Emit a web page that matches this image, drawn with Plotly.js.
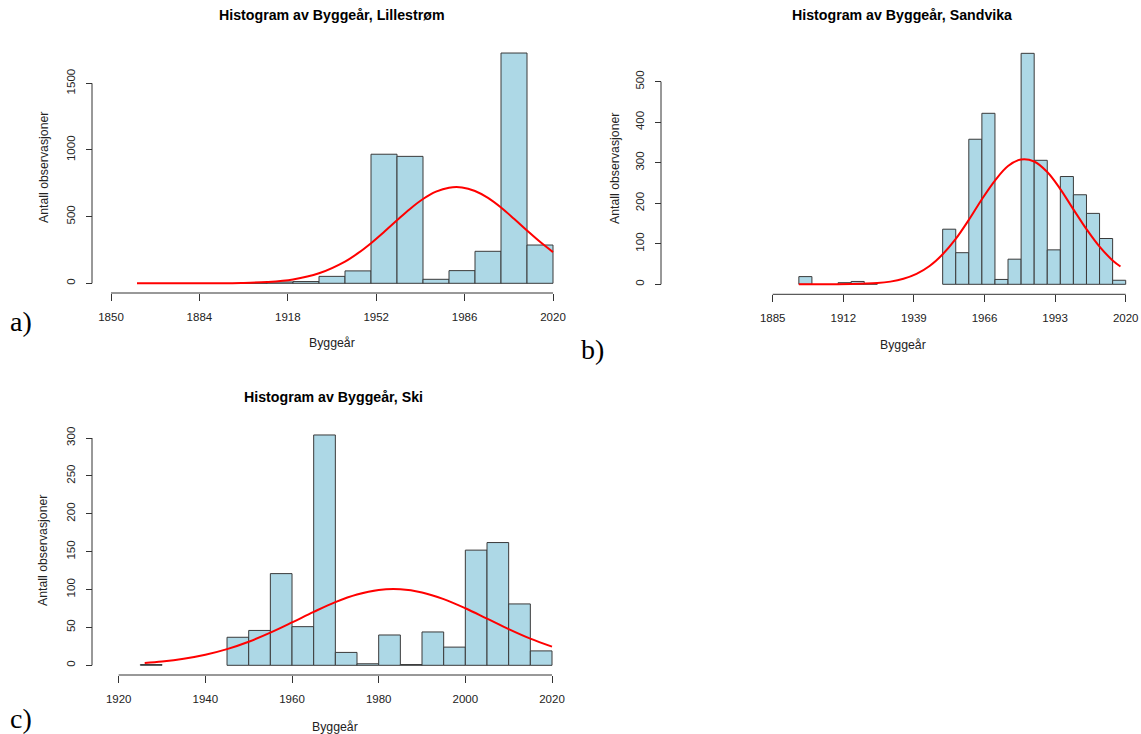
<!DOCTYPE html>
<html>
<head>
<meta charset="utf-8">
<script src="https://cdn.plot.ly/plotly-3.0.1.min.js"></script>
<style>
  html, body { margin: 0; padding: 0; background: #ffffff; }
  #chart { width: 1141px; height: 734px; }
</style>
</head>
<body>
<div id="chart"></div>
<script>
// ---------------- DATA ----------------
// Panel a) Lillestrøm : 10-year bins (bin start years) and counts
const aBinStart = [1900, 1910, 1920, 1930, 1940, 1950, 1960, 1970, 1980, 1990, 2000, 2010];
const aCounts   = [3, 10, 13, 52, 93, 968, 952, 30, 95, 240, 1727, 287];
const aBinWidth = 10;
// fitted normal curve (year, count)
const aCurveX = [1860, 1870, 1880, 1890, 1900, 1910, 1920, 1930, 1940, 1945, 1950, 1955, 1960, 1965, 1970, 1975, 1980, 1985, 1990, 1995, 2000, 2005, 2010, 2015, 2020];
const aCurveY = [0, 0.02, 0.13, 0.7, 2.7, 9.7, 29, 75, 163, 226, 301, 385, 473, 558, 632, 687, 717, 719, 692, 640, 568, 484, 396, 311, 234];
const aXTicks = [1850, 1884, 1918, 1952, 1986, 2020];
const aYTicks = [0, 500, 1000, 1500];

// Panel b) Sandvika : 5-year bins
const bBinStart = [1895, 1910, 1915, 1920, 1950, 1955, 1960, 1965, 1970, 1975, 1980, 1985, 1990, 1995, 2000, 2005, 2010, 2015];
const bCounts   = [19, 4, 7, 2, 136, 78, 358, 422, 12, 62, 570, 306, 85, 266, 221, 175, 113, 10];
const bBinWidth = 5;
const bCurveX = [1895, 1905, 1915, 1925, 1930, 1935, 1940, 1945, 1950, 1955, 1960, 1965, 1970, 1975, 1980, 1985, 1990, 1995, 2000, 2005, 2010, 2015, 2018];
const bCurveY = [0, 0.06, 0.5, 3, 6.6, 13.5, 25.6, 45, 74, 112, 159, 210, 256, 292, 308, 303, 277, 235, 185, 136, 93, 59, 44];
const bXTicks = [1885, 1912, 1939, 1966, 1993, 2020];
const bYTicks = [0, 100, 200, 300, 400, 500];

// Panel c) Ski : 5-year bins
const cBinStart = [1925, 1945, 1950, 1955, 1960, 1965, 1970, 1975, 1980, 1985, 1990, 1995, 2000, 2005, 2010, 2015];
const cCounts   = [1, 37, 46, 121, 51, 304, 17, 2, 40, 1, 44, 24, 152, 162, 81, 19];
const cBinWidth = 5;
const cCurveX = [1926, 1930, 1935, 1940, 1945, 1950, 1955, 1960, 1965, 1970, 1975, 1980, 1985, 1990, 1995, 2000, 2005, 2010, 2015, 2020];
const cCurveY = [3.1, 5.0, 8.6, 13.9, 21.3, 31.1, 43.1, 56.6, 70.5, 83.4, 93.5, 99.5, 100.4, 96.2, 87.4, 75.3, 61.6, 47.8, 35.2, 24.6];
const cXTicks = [1920, 1940, 1960, 1980, 2000, 2020];
const cYTicks = [0, 50, 100, 150, 200, 250, 300];

const titles = ["Histogram av Byggeår, Lillestrøm", "Histogram av Byggeår, Sandvika", "Histogram av Byggeår, Ski"];
const xTitle = "Byggeår";
const yTitle = "Antall observasjoner";
const panelLabels = ["a)", "b)", "c)"];

// ---------------- LAYOUT GEOMETRY (pixels) ----------------
const W = 1141, H = 734;
const fx = p => p / W;
const fy = p => 1 - p / H;
function valAt(v1, p1, v2, p2, p) { return v1 + (p - p1) * (v2 - v1) / (p2 - p1); }

const panels = [
  { key: "", bins: aBinStart, counts: aCounts, bw: aBinWidth, cx: aCurveX, cy: aCurveY, xt: aXTicks, yt: aYTicks,
    xmap: [aXTicks[0], 111, aXTicks[5], 553], ymap: [0, 283.3, 1500, 83.3],
    xdom: [100, 565], ydom: [45, 290], xAxisY: 293, yAxisX: 92,
    title: [332, 15], xlab: [332, 343], ylab: [44, 168], plab: [21, 322] },
  { key: "2", bins: bBinStart, counts: bCounts, bw: bBinWidth, cx: bCurveX, cy: bCurveY, xt: bXTicks, yt: bYTicks,
    xmap: [bXTicks[0], 772.7, bXTicks[5], 1125.7], ymap: [0, 284.3, 500, 81.7],
    xdom: [680, 1135], ydom: [45, 290], xAxisY: 294.3, yAxisX: 661,
    title: [902, 15], xlab: [903, 345], ylab: [615, 168], plab: [592, 349] },
  { key: "3", bins: cBinStart, counts: cCounts, bw: cBinWidth, cx: cCurveX, cy: cCurveY, xt: cXTicks, yt: cYTicks,
    xmap: [cXTicks[0], 118.7, cXTicks[5], 552], ymap: [0, 665.3, 300, 438],
    xdom: [100, 565], ydom: [425, 671], xAxisY: 675, yAxisX: 92,
    title: [333, 397], xlab: [335, 727], ylab: [43, 550], plab: [21, 718] }
];

const axisColor = "#333333";
const tickFont = { family: "Liberation Sans, Arial, sans-serif", size: 11.5, color: "#222222" };
const labFont = { family: "Liberation Sans, Arial, sans-serif", size: 12.3, color: "#222222" };

const data = [];
const layout = {
  width: W, height: H,
  margin: { l: 0, r: 0, t: 0, b: 0, pad: 0 },
  paper_bgcolor: "#ffffff", plot_bgcolor: "rgba(0,0,0,0)",
  showlegend: false,
  hovermode: false,
  shapes: [], annotations: []
};

panels.forEach((P, i) => {
  const xa = "x" + P.key, ya = "y" + P.key;
  const xr = [valAt(P.xmap[0], P.xmap[1], P.xmap[2], P.xmap[3], P.xdom[0]),
              valAt(P.xmap[0], P.xmap[1], P.xmap[2], P.xmap[3], P.xdom[1])];
  const yr = [valAt(P.ymap[0], P.ymap[1], P.ymap[2], P.ymap[3], P.ydom[1]),
              valAt(P.ymap[0], P.ymap[1], P.ymap[2], P.ymap[3], P.ydom[0])];

  data.push({
    type: "bar", xaxis: xa, yaxis: ya,
    x: P.bins.map(s => s + P.bw / 2), y: P.counts,
    width: P.bins.map(() => P.bw),
    marker: { color: "#ADD8E6", line: { color: "#3a3a3a", width: 1 } },
    hoverinfo: "skip"
  });
  data.push({
    type: "scatter", mode: "lines", xaxis: xa, yaxis: ya,
    x: P.cx, y: P.cy,
    line: { color: "#FF0000", width: 2, shape: "spline", smoothing: 1 },
    hoverinfo: "skip"
  });

  layout["xaxis" + P.key] = {
    domain: [fx(P.xdom[0]), fx(P.xdom[1])], range: xr,
    anchor: "free", position: fy(P.xAxisY),
    showgrid: false, zeroline: false, showline: false,
    tickmode: "array", tickvals: P.xt, ticktext: P.xt.map(String),
    ticks: "outside", ticklen: 7, tickwidth: 1, tickcolor: axisColor,
    tickfont: tickFont, ticklabelstandoff: 6, fixedrange: true
  };
  layout["yaxis" + P.key] = {
    domain: [fy(P.ydom[1]), fy(P.ydom[0])], range: yr,
    anchor: "free", position: fx(P.yAxisX),
    showgrid: false, zeroline: false, showline: false,
    tickmode: "array", tickvals: P.yt, ticktext: P.yt.map(String),
    ticks: "outside", ticklen: 6, tickwidth: 1, tickcolor: axisColor,
    tickangle: -90, tickfont: tickFont, ticklabelstandoff: 6, fixedrange: true
  };

  // R-style axis lines spanning first to last tick
  layout.shapes.push({ type: "line", xref: xa, yref: "paper",
    x0: P.xt[0], x1: P.xt[P.xt.length - 1], y0: fy(P.xAxisY), y1: fy(P.xAxisY),
    line: { color: axisColor, width: 1 } });
  layout.shapes.push({ type: "line", xref: "paper", yref: ya,
    x0: fx(P.yAxisX), x1: fx(P.yAxisX), y0: P.yt[0], y1: P.yt[P.yt.length - 1],
    line: { color: axisColor, width: 1 } });

  layout.annotations.push({ text: "<b>" + titles[i] + "</b>", xref: "paper", yref: "paper",
    x: fx(P.title[0]), y: fy(P.title[1]), xanchor: "center", yanchor: "middle", showarrow: false,
    font: { family: "Liberation Sans, Arial, sans-serif", size: 14.2, color: "#000000" } });
  layout.annotations.push({ text: xTitle, xref: "paper", yref: "paper",
    x: fx(P.xlab[0]), y: fy(P.xlab[1]), xanchor: "center", yanchor: "middle", showarrow: false,
    font: labFont });
  layout.annotations.push({ text: yTitle, xref: "paper", yref: "paper", textangle: -90,
    x: fx(P.ylab[0]), y: fy(P.ylab[1]), xanchor: "center", yanchor: "middle", showarrow: false,
    font: labFont });
  layout.annotations.push({ text: panelLabels[i], xref: "paper", yref: "paper",
    x: fx(P.plab[0]), y: fy(P.plab[1]), xanchor: "center", yanchor: "middle", showarrow: false,
    font: { family: "Liberation Serif, Times New Roman, serif", size: 28, color: "#000000" } });
});

Plotly.newPlot("chart", data, layout, { displayModeBar: false, staticPlot: true });
</script>
</body>
</html>
